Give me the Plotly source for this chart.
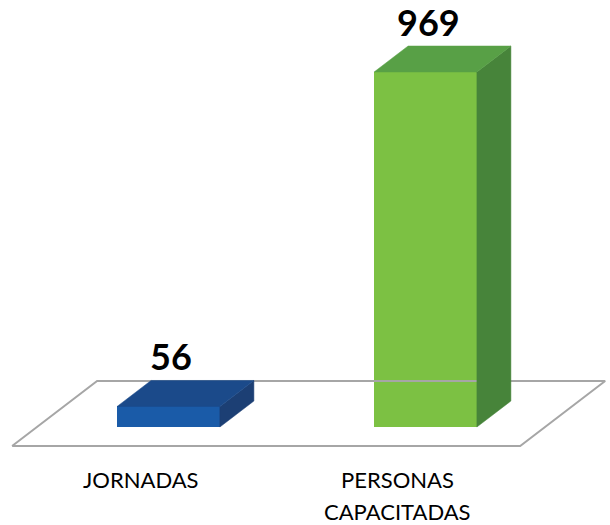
import plotly.graph_objects as go

# ---- data ----
categories = ["JORNADAS", "PERSONAS CAPACITADAS"]
label_lines = [["JORNADAS"], ["PERSONAS", "CAPACITADAS"]]
values = [56, 969]
front_colors = ["#1A5BA8", "#7CC143"]
top_colors = ["#1B4A8A", "#58A046"]
side_colors = ["#1C3F74", "#47843A"]

# ---- geometry (pixel calibrated; body margin removed below) ----
W, H = 610, 525
PX_CAT = 257.0            # pixels per category step
PX_VAL = 355.0 / 969.0    # pixels per value unit
X_ORIGIN_PX = 168.5       # pixel x of first category centre
Y_ZERO_PX = 427.0         # pixel y of value 0 (front plane)

X0 = -X_ORIGIN_PX / PX_CAT
X1 = (W - X_ORIGIN_PX) / PX_CAT
Y1 = Y_ZERO_PX / PX_VAL
Y0 = -(H - Y_ZERO_PX) / PX_VAL

BAR_W = 0.40
DX = 34.0 / PX_CAT        # depth offset in category units
DY = 26.0 / PX_VAL        # depth offset in value units

fig = go.Figure()

# floor
FL, FR = -0.512, 1.465
f_front, f_back = -0.73, 1.77
fx = [FL + f_front * DX, FR + f_front * DX, FR + f_back * DX, FL + f_back * DX, FL + f_front * DX]
fy = [f_front * DY, f_front * DY, f_back * DY, f_back * DY, f_front * DY]
fig.add_trace(go.Scatter(x=fx, y=fy, mode="lines", line=dict(color="#A6A6A6", width=2),
                         hoverinfo="skip", showlegend=False))

xs = list(range(len(values)))
for i, v in zip(xs, values):
    l, r = i - BAR_W / 2, i + BAR_W / 2
    # side face
    fig.add_trace(go.Scatter(
        x=[r, r, r + DX, r + DX, r], y=[0, v, v + DY, DY, 0],
        mode="lines", fill="toself", fillcolor=side_colors[i],
        line=dict(color=side_colors[i], width=0.5), hoverinfo="skip", showlegend=False))
    # top face
    fig.add_trace(go.Scatter(
        x=[l, r, r + DX, l + DX, l], y=[v, v, v + DY, v + DY, v],
        mode="lines", fill="toself", fillcolor=top_colors[i],
        line=dict(color=top_colors[i], width=0.5), hoverinfo="skip", showlegend=False))

# front faces
fig.add_trace(go.Bar(x=xs, y=values, width=BAR_W, marker=dict(color=front_colors, line=dict(width=0)),
                     hoverinfo="skip", showlegend=False))

annotations = []
for i, v in zip(xs, values):
    annotations.append(dict(x=i + 0.01, y=v + DY, xref="x", yref="y", text=f"<b>{v}</b>",
                            showarrow=False, yanchor="bottom", yshift=0,
                            font=dict(family="Lato", size=36, color="#000000")))
    for k, line in enumerate(label_lines[i]):
        annotations.append(dict(x=i - 0.108, y=-(479 + 32 * k - Y_ZERO_PX) / PX_VAL,
                                xref="x", yref="y", text=line, showarrow=False,
                                yanchor="middle",
                                font=dict(family="Lato", size=22, color="#000000")))

fig.update_layout(
    width=W, height=H, autosize=False,
    margin=dict(l=0, r=0, t=0, b=0, pad=0),
    paper_bgcolor="white", plot_bgcolor="white",
    xaxis=dict(range=[X0, X1], visible=False, fixedrange=True),
    yaxis=dict(range=[Y0, Y1], visible=False, fixedrange=True),
    annotations=annotations,
    bargap=0,
    hovermode=False,
)

fig.write_html("out.html", config={"displayModeBar": False},
               post_script="document.body.style.margin='0px';")
